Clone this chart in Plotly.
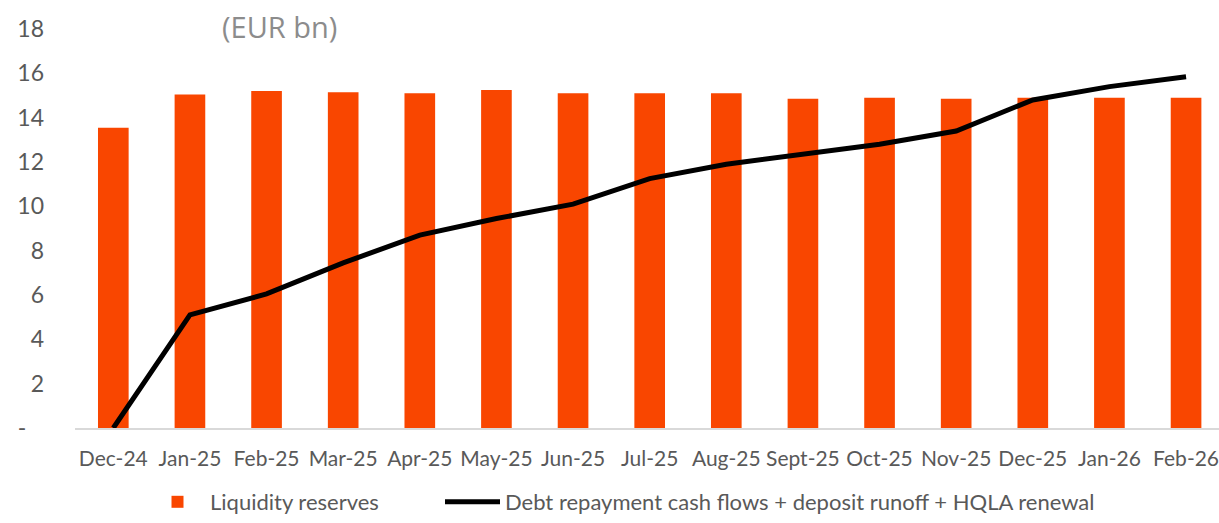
import plotly.graph_objects as go

categories = ["Dec-24", "Jan-25", "Feb-25", "Mar-25", "Apr-25", "May-25", "Jun-25",
              "Jul-25", "Aug-25", "Sept-25", "Oct-25", "Nov-25", "Dec-25", "Jan-26", "Feb-26"]
liquidity_reserves = [13.55, 15.05, 15.2, 15.15, 15.1, 15.25, 15.1, 15.1, 15.1,
                      14.85, 14.9, 14.85, 14.9, 14.9, 14.9]
debt_runoff = [0, 5.1, 6.05, 7.45, 8.7, 9.45, 10.1, 11.25, 11.9, 12.35, 12.8, 13.4,
               14.8, 15.4, 15.85]
y_tickvals = [0, 2, 4, 6, 8, 10, 12, 14, 16, 18]
y_ticktext = ["-\u00a0\u00a0\u00a0", "2", "4", "6", "8", "10", "12", "14", "16", "18"]

FONT = "Lato, 'Open Sans', sans-serif"
GRAY = "#595959"
PLOT_L, PLOT_W = 75, 1144
H = 523

fig = go.Figure()
fig.add_trace(go.Bar(
    x=categories, y=liquidity_reserves, name="Liquidity reserves",
    marker=dict(color="#F94600", line=dict(width=0)), legend="legend",
))
fig.add_trace(go.Scatter(
    x=categories, y=debt_runoff, mode="lines",
    name="Debt repayment cash flows + deposit runoff + HQLA renewal",
    line=dict(color="#000000", width=5), legend="legend2",
))

legend_common = dict(orientation="h", xanchor="left", yref="container",
                     y=0, yanchor="bottom",
                     font=dict(family=FONT, size=22, color=GRAY), itemwidth=55,
                     bgcolor="rgba(0,0,0,0)")

fig.update_layout(
    width=1219, height=H,
    margin=dict(l=PLOT_L, r=0, t=29, b=95, autoexpand=False),
    paper_bgcolor="white", plot_bgcolor="white",
    bargap=0.6,
    font=dict(family=FONT, size=20, color=GRAY),
    showlegend=True,
    legend=dict(x=(145 - PLOT_L) / PLOT_W, **legend_common),
    legend2=dict(x=(440 - PLOT_L) / PLOT_W, **legend_common),
    xaxis=dict(range=[-0.5, 14.43], showgrid=False, showline=True, linecolor="#d9d9d9",
               linewidth=1.5, ticks="", tickfont=dict(family=FONT, size=21, color=GRAY),
               ticklabelstandoff=11, automargin=False),
    yaxis=dict(range=[0, 18], tickvals=y_tickvals, ticktext=y_ticktext, showgrid=False,
               zeroline=False, showline=False, ticks="",
               tickfont=dict(family=FONT, size=23, color=GRAY), ticklabelstandoff=30,
               automargin=False),
    annotations=[dict(text="(EUR bn)", xref="paper", yref="paper", x=(220 - PLOT_L) / PLOT_W,
                      y=(428 - 27) / 399, xanchor="left", yanchor="middle", showarrow=False,
                      font=dict(family="'Open Sans', sans-serif", size=29, color="#8c8c8c"))],
)

fig.write_html("out.html", config={"displayModeBar": False},
               post_script="document.body.style.margin='0';")
